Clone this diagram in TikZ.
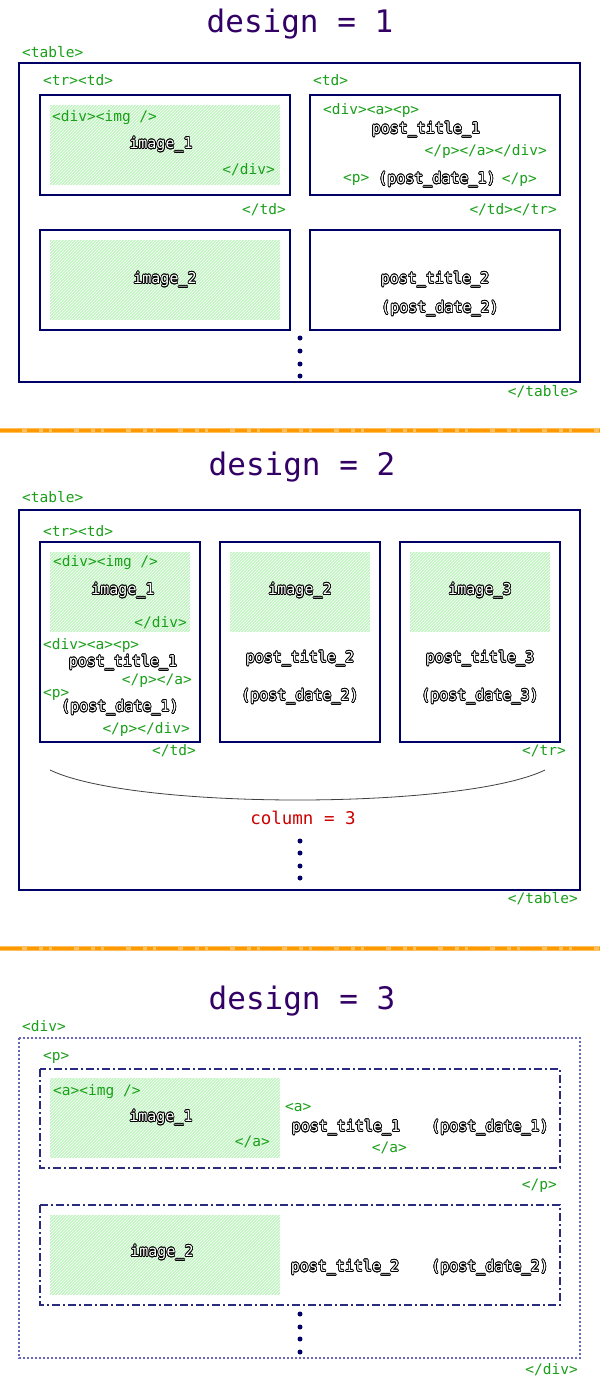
\documentclass[tikz,border=0pt]{standalone}
\usepackage{fontspec}
\setmonofont{DejaVu Sans Mono}
\usepackage{contour}
\contourlength{0.7pt}
\contournumber{16}
\usetikzlibrary{patterns}
\definecolor{navy}{HTML}{000066}
\definecolor{titlepurple}{HTML}{330066}
\definecolor{taggreen}{HTML}{1A9F1A}
\definecolor{hatchgreen}{HTML}{C0F5C0}
\definecolor{colred}{HTML}{CC0000}
\definecolor{dotblue}{HTML}{6666BB}
\definecolor{pnavy}{HTML}{2A2A80}
\definecolor{sepor}{HTML}{FF9900}
\definecolor{seplight}{HTML}{FFC060}
\newcommand\tagfont{\fontsize{14.5}{15}\selectfont\ttfamily}
\newcommand\olfont{\fontsize{15}{16}\selectfont\ttfamily}
\newcommand\olt[1]{\contour{black}{\textcolor{white}{#1}}}
\tikzset{
  tag/.style={text=taggreen, font=\tagfont, inner sep=0pt},
  otext/.style={font=\olfont, inner sep=0pt},
  dtitle/.style={text=titlepurple, font=\fontsize{31}{33}\selectfont\ttfamily, inner sep=0pt},
  tbox/.style={draw=navy, line width=2pt},
  hatchbox/.style={fill=hatchgreen, postaction={pattern=north east lines, pattern color=white}},
  pbox/.style={draw=pnavy, line width=2pt, dash pattern=on 8pt off 3pt on 2pt off 3pt},
  divbox/.style={draw=dotblue, line width=1.5pt, dash pattern=on 2pt off 2pt},
  vdot/.style={circle, fill=navy, inner sep=0pt, minimum size=5pt},
  sepline/.style={line width=3pt, sepor, dash pattern=on 22pt off 5pt on 12pt off 4pt on 6pt off 3pt},
  seplightline/.style={line width=5pt, seplight},
}
\begin{document}
\begin{tikzpicture}[x=1pt,y=-1pt]
\useasboundingbox (0,0) rectangle (600,1400);
\fill[white] (0,0) rectangle (600,1400);

% ================= design 1 =================
\node[dtitle] (t1) at (300,24) {design = 1};
\node[tag, anchor=west] (d1tab) at (22,52) {<table>};
\draw[tbox] (19,63) rectangle (580,382);
\node[tag, anchor=west] (d1trtd) at (43,80) {<tr><td>};
\node[tag, anchor=west] (d1td) at (313,80) {<td>};
\draw[tbox] (40,95) rectangle (290,195);
\draw[tbox] (310,95) rectangle (560,195);
\fill[hatchbox] (50,105) rectangle (280,185);
\node[tag, anchor=west] (d1div) at (52,118) {<div><img />};
\node[otext] (d1img1) at (161,145) {\olt{image\_1}};
\node[tag, anchor=east] (d1cdiv) at (275,170) {</div>};
\node[tag, anchor=west] (d1dap) at (323,110) {<div><a><p>};
\node[otext] (d1pt1) at (426,130) {\olt{post\_title\_1}};
\node[tag, anchor=east] (d1cpad) at (547,151) {</p></a></div>};
\node[tag, anchor=west] (d1p) at (343,180) {<p>};
\node[otext] (d1pd1) at (437,180) {\olt{(post\_date\_1)}};
\node[tag, anchor=east] (d1cp) at (537,180) {</p>};
\node[tag, anchor=east] (d1ctd) at (286,210) {</td>};
\node[tag, anchor=east] (d1ctdtr) at (557,210) {</td></tr>};
\draw[tbox] (40,230) rectangle (290,330);
\draw[tbox] (310,230) rectangle (560,330);
\fill[hatchbox] (50,240) rectangle (280,320);
\node[otext] (d1img2) at (165,280) {\olt{image\_2}};
\node[otext] (d1pt2) at (435,280) {\olt{post\_title\_2}};
\node[otext] (d1pd2) at (440,309) {\olt{(post\_date\_2)}};
\node[vdot] (d1v1) at (300,338) {};
\node[vdot] (d1v2) at (300,351) {};
\node[vdot] (d1v3) at (300,364) {};
\node[vdot] (d1v4) at (300,376) {};
\node[tag, anchor=east] (d1ctab) at (578,392) {</table>};

% separator 1
\coordinate (s1l) at (0,430);
\coordinate (s1r) at (600,430);
\draw[seplightline] (s1l) -- (s1r);
\draw[sepline] (s1l) -- (s1r);

% ================= design 2 =================
\node[dtitle] (t2) at (302,467) {design = 2};
\node[tag, anchor=west] (d2tab) at (22,497) {<table>};
\draw[tbox] (19,510) rectangle (580,890);
\node[tag, anchor=west] (d2trtd) at (43,531) {<tr><td>};
\draw[tbox] (40,542) rectangle (200,742);
\draw[tbox] (220,542) rectangle (380,742);
\draw[tbox] (400,542) rectangle (560,742);
\fill[hatchbox] (50,552) rectangle (190,632);
\fill[hatchbox] (230,552) rectangle (370,632);
\fill[hatchbox] (410,552) rectangle (550,632);
\node[tag, anchor=west] (d2div) at (53,563) {<div><img />};
\node[otext] (d2img1) at (123,591) {\olt{image\_1}};
\node[tag, anchor=east] (d2cdiv) at (187,623) {</div>};
\node[tag, anchor=west] (d2dap) at (43,645) {<div><a><p>};
\node[otext] (d2pt1) at (123,663) {\olt{post\_title\_1}};
\node[tag, anchor=east] (d2cpa) at (192,681) {</p></a>};
\node[tag, anchor=west] (d2p) at (43,695) {<p>};
\node[otext] (d2pd1) at (120,708) {\olt{(post\_date\_1)}};
\node[tag, anchor=east] (d2cpdiv) at (190,729) {</p></div>};
\node[tag, anchor=east] (d2ctd) at (196,751) {</td>};
\node[otext] (d2img2) at (300,591) {\olt{image\_2}};
\node[otext] (d2pt2) at (300,659) {\olt{post\_title\_2}};
\node[otext] (d2pd2) at (300,697) {\olt{(post\_date\_2)}};
\node[otext] (d2img3) at (480,591) {\olt{image\_3}};
\node[otext] (d2pt3) at (480,659) {\olt{post\_title\_3}};
\node[otext] (d2pd3) at (480,697) {\olt{(post\_date\_3)}};
\node[tag, anchor=east] (d2ctr) at (566,751) {</tr>};
\coordinate (cl) at (50,770);
\coordinate (cr) at (545,770);
\draw[black!75, line width=0.8pt] (cl) .. controls (133,810) and (462,810) .. (cr);
\node[tag, text=colred, font=\fontsize{17.5}{18}\selectfont\ttfamily, anchor=center] (col) at (303,818) {column = 3};
\node[vdot] (d2v1) at (300,841) {};
\node[vdot] (d2v2) at (300,853) {};
\node[vdot] (d2v3) at (300,866) {};
\node[vdot] (d2v4) at (300,878) {};
\node[tag, anchor=east] (d2ctab) at (578,899) {</table>};

% separator 2
\coordinate (s2l) at (0,948);
\coordinate (s2r) at (600,948);
\draw[seplightline] (s2l) -- (s2r);
\draw[sepline] (s2l) -- (s2r);

% ================= design 3 =================
\node[dtitle] (t3) at (302,1001) {design = 3};
\node[tag, anchor=west] (d3div) at (22,1026) {<div>};
\draw[divbox] (19,1038) rectangle (580,1358);
\node[tag, anchor=west] (d3p) at (43,1058) {<p>};
\draw[pbox] (40,1069) rectangle (560,1168);
\fill[hatchbox] (50,1078) rectangle (280,1158);
\node[tag, anchor=west] (d3aimg) at (53,1092) {<a><img />};
\node[otext] (d3img1) at (161,1118) {\olt{image\_1}};
\node[tag, anchor=east] (d3ca1) at (270,1142) {</a>};
\node[tag, anchor=west] (d3a) at (285,1108) {<a>};
\node[otext] (d3pt1) at (346,1128) {\olt{post\_title\_1}};
\node[tag, anchor=east] (d3ca2) at (407,1148) {</a>};
\node[otext] (d3pd1) at (490,1128) {\olt{(post\_date\_1)}};
\node[tag, anchor=east] (d3cp) at (557,1186) {</p>};
\draw[pbox] (40,1205) rectangle (560,1305);
\fill[hatchbox] (50,1215) rectangle (280,1295);
\node[otext] (d3img2) at (162,1253) {\olt{image\_2}};
\node[otext] (d3pt2) at (345,1268) {\olt{post\_title\_2}};
\node[otext] (d3pd2) at (490,1268) {\olt{(post\_date\_2)}};
\node[vdot] (d3v1) at (300,1314) {};
\node[vdot] (d3v2) at (300,1327) {};
\node[vdot] (d3v3) at (300,1339) {};
\node[vdot] (d3v4) at (300,1352) {};
\node[tag, anchor=east] (d3cdiv) at (578,1370) {</div>};
\end{tikzpicture}
\end{document}
